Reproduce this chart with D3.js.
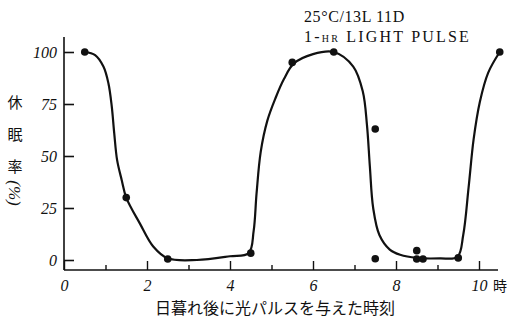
<!DOCTYPE html>
<html>
<head>
<meta charset="utf-8">
<script src="https://cdn.jsdelivr.net/npm/d3@7"></script>
<style>
  body { margin: 0; background: #fff; }
  svg { display: block; }
</style>
</head>
<body>
<svg id="chart"></svg>
<script>
// measured points (hour after dusk, % diapause)
var pointHours = [0.5, 1.5, 2.5, 4.5, 5.5, 6.5, 7.5, 7.5, 8.5, 8.5, 8.65, 9.5, 10.5]
var pointRates = [100, 30, 0.5, 3.3, 95, 100, 63, 0.6, 4.5, 0.5, 0.5, 1, 100]

// hand-drawn fitted curve
var curveHours = [0.5, 0.75, 0.95, 1.07, 1.15, 1.21, 1.28, 1.39, 1.5, 1.83, 2.15, 2.5, 3.2, 4.0, 4.45,
                  4.57, 4.64, 4.74, 4.9, 5.1, 5.3, 5.54, 6.0, 6.5, 6.97, 7.2, 7.3, 7.37, 7.45, 7.6, 7.85,
                  8.1, 8.5, 9.06, 9.48, 9.62, 9.75, 9.87, 10.02, 10.22, 10.5]
var curveRates = [100, 98.5, 93, 85, 74, 61, 48, 38.5, 30, 17.5, 6.5, 0.8, 0, 1.8, 3.3,
                  14, 32, 52, 67, 78, 87, 94.5, 99, 100, 93, 81, 65, 45, 25, 12, 5,
                  2.5, 1, 0.8, 1.5, 12, 35, 58, 76, 90, 100]

var yTicks = [0, 25, 50, 75, 100]
var xMajorTicks = [0, 2, 4, 6, 8, 10]
var xMinorTicks = [1, 3, 5, 7, 9]

var dimensions = {
    width: 510,
    height: 321,
    margin: { top: 52, bottom: 61, left: 64, right: 31 }
}

var svg = d3.select("#chart")
            .attr("width", dimensions.width)
            .attr("height", dimensions.height)

var xScale = d3.scaleLinear()
               .domain([0, 10])
               .range([dimensions.margin.left, 479])

var yScale = d3.scaleLinear()
               .domain([0, 100])
               .range([dimensions.height - dimensions.margin.bottom, dimensions.margin.top])

var axisY = 270
var serif = "'Liberation Serif', 'DejaVu Serif', serif"
var cjk = "'Noto Sans CJK JP', sans-serif"

// axes lines
svg.append("line")
   .attr("x1", xScale(0)).attr("x2", xScale(0))
   .attr("y1", 37).attr("y2", axisY)
   .attr("stroke", "#111").attr("stroke-width", 1.6)
svg.append("line")
   .attr("x1", xScale(0)).attr("x2", 498)
   .attr("y1", axisY).attr("y2", axisY)
   .attr("stroke", "#111").attr("stroke-width", 1.6)

var yAxisGen = d3.axisLeft(yScale).tickValues(yTicks).tickSizeInner(-10).tickSizeOuter(0).tickPadding(7)
var yAxis = svg.append("g")
               .attr("transform", `translate(${xScale(0)},0)`)
               .call(yAxisGen)
yAxis.select(".domain").remove()
yAxis.selectAll("line").attr("stroke", "#111").attr("stroke-width", 1.6)
yAxis.selectAll("text")
     .style("font-family", serif).style("font-style", "italic")
     .style("font-size", "16px").attr("fill", "#111")

var xAxisGen = d3.axisBottom(xScale).tickValues(xMajorTicks).tickSizeInner(-9).tickSizeOuter(0).tickPadding(10)
var xAxis = svg.append("g")
               .attr("transform", `translate(0,${axisY})`)
               .call(xAxisGen)
xAxis.select(".domain").remove()
xAxis.selectAll("line").attr("stroke", "#111").attr("stroke-width", 1.4)
xAxis.selectAll("text")
     .style("font-family", serif).style("font-style", "italic")
     .style("font-size", "16px").attr("fill", "#111")

var xMinorGen = d3.axisBottom(xScale).tickValues(xMinorTicks).tickSizeInner(-5).tickSizeOuter(0).tickFormat("")
var xMinor = svg.append("g")
                .attr("transform", `translate(0,${axisY})`)
                .call(xMinorGen)
xMinor.select(".domain").remove()
xMinor.selectAll("line").attr("stroke", "#111").attr("stroke-width", 1.4)

svg.append("text")
   .attr("x", xScale(10) + 14).attr("y", 291)
   .style("font-family", cjk).style("font-size", "14px")
   .attr("fill", "#111")
   .text("時")

// fitted curve
var curveData = d3.zip(curveHours, curveRates)
var lineGen = d3.line()
                .x(d => xScale(d[0]))
                .y(d => yScale(d[1]))
                .curve(d3.curveCatmullRom.alpha(0.5))
svg.append("path")
   .datum(curveData)
   .attr("d", lineGen)
   .attr("fill", "none")
   .attr("stroke", "#111")
   .attr("stroke-width", 2.2)

// points
var pointData = d3.zip(pointHours, pointRates)
svg.append("g")
   .selectAll("circle")
   .data(pointData)
   .enter()
   .append("circle")
   .attr("cx", d => xScale(d[0]))
   .attr("cy", d => yScale(d[1]))
   .attr("r", 3.8)
   .attr("fill", "#111")

// y title (vertical)
var yTitle = ["休", "眠", "率"]
svg.append("g")
   .selectAll("text")
   .data(yTitle)
   .enter()
   .append("text")
   .attr("x", 15)
   .attr("y", (d, i) => 108 + i * 32)
   .attr("text-anchor", "middle")
   .style("font-family", cjk).style("font-size", "15px")
   .attr("fill", "#111")
   .text(d => d)
svg.append("text")
   .attr("transform", "translate(15,193) rotate(90)")
   .attr("text-anchor", "middle")
   .attr("dy", "0.35em")
   .style("font-family", serif).style("font-style", "italic").style("font-size", "17px")
   .attr("fill", "#111")
   .text("(%)")

// x title
svg.append("text")
   .attr("x", 275).attr("y", 314)
   .attr("text-anchor", "middle")
   .style("font-family", cjk).style("font-size", "16px")
   .attr("fill", "#111")
   .text("日暮れ後に光パルスを与えた時刻")

// condition note
var note = svg.append("g")
              .style("font-family", serif).style("font-size", "16px")
              .attr("fill", "#111")
note.append("text")
    .attr("x", 304).attr("y", 22)
    .style("letter-spacing", "0.6px")
    .text("25°C/13L 11D")
var note2 = note.append("text")
                .attr("x", 304).attr("y", 42)
                .style("letter-spacing", "2.2px")
note2.append("tspan").text("1-")
note2.append("tspan").style("font-size", "10px").text("HR")
note2.append("tspan").text(" LIGHT PULSE")
</script>
</body>
</html>
